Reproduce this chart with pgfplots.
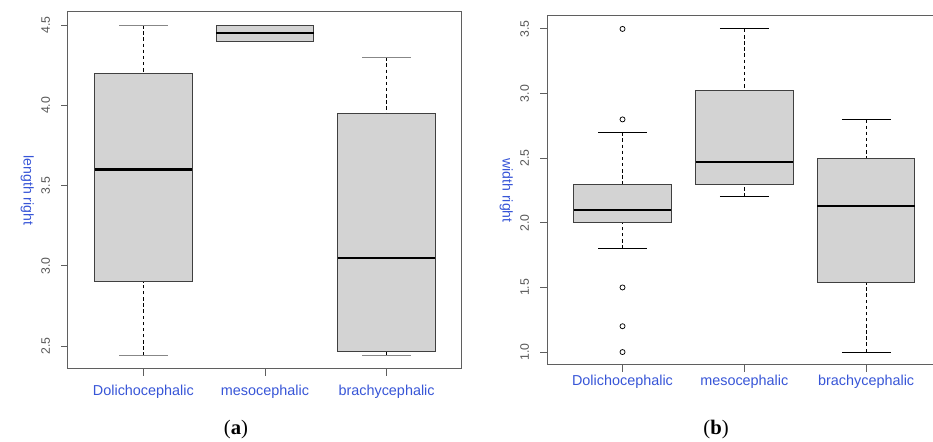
\documentclass[border=0pt]{standalone}
\usepackage{pgfplots}
\pgfplotsset{compat=1.18}
\usepgfplotslibrary{statistics}
\usepackage{fontspec}
\setmainfont{Liberation Sans}
\newfontfamily\capfont{Liberation Serif}
\definecolor{lblue}{RGB}{55,85,215}
\definecolor{tgray}{RGB}{85,85,85}
\definecolor{framegray}{RGB}{95,95,95}
\definecolor{boxgray}{RGB}{211,211,211}
\definecolor{capgray}{RGB}{135,135,135}
\pgfplotsset{
  rbox/.style={
    scale only axis,
    xmin=0.38, xmax=3.62,
    xtick={1,2,3},
    xticklabels={Dolichocephalic, mesocephalic, brachycephalic},
    xtick pos=bottom, ytick pos=left,
    tick align=outside,
    major tick length=5pt,
    tick style={framegray, line width=0.7pt},
    axis line style={framegray, line width=0.75pt},
    xticklabel style={font=\fontsize{10.8}{12}\selectfont, text=lblue},
    yticklabel style={font=\fontsize{9.2}{10}\selectfont, text=tgray, xshift=-5pt, rotate=90, anchor=south},
    /pgf/number format/assume math mode=true,
    /pgf/number format/.cd, fixed, fixed zerofill, precision=1, /pgfplots/.cd,
    every axis y label/.style={at={(axis description cs:0,0.5)}, anchor=center, xshift=-30.5pt, rotate=-90, font=\fontsize{10.6}{12}\selectfont, text=lblue},
    boxplot/draw direction=y,
    boxplot/box extend=0.8,
    boxplot/whisker extend=0.4,
    boxplot/every median/.style={line width=1.8pt, black},
    boxplot/every box/.style={fill=boxgray, draw=black!75, line width=0.75pt},
  },
}
\newcommand{\setwhiskers}[1]{%
\pgfplotsset{
  boxplot/draw/lower whisker/.code={%
    \draw[black, line width=0.75pt, dash pattern=on 2.6pt off 2pt] (boxplot cs:\pgfplotsboxplotvalue{lower whisker}) -- (boxplot cs:\pgfplotsboxplotvalue{lower quartile});
    \draw[#1, line width=0.75pt, solid] (boxplot whisker cs:\pgfplotsboxplotvalue{lower whisker},0) -- (boxplot whisker cs:\pgfplotsboxplotvalue{lower whisker},1);
  },
  boxplot/draw/upper whisker/.code={%
    \draw[black, line width=0.75pt, dash pattern=on 2.6pt off 2pt] (boxplot cs:\pgfplotsboxplotvalue{upper whisker}) -- (boxplot cs:\pgfplotsboxplotvalue{upper quartile});
    \draw[#1, line width=0.75pt, solid] (boxplot whisker cs:\pgfplotsboxplotvalue{upper whisker},0) -- (boxplot whisker cs:\pgfplotsboxplotvalue{upper whisker},1);
  },
}}
\begin{document}
\begin{tikzpicture}
\useasboundingbox (0,0) rectangle (699.75pt,331.5pt);
% ---------- (a) ----------
\begin{axis}[rbox, at={(51pt,54.75pt)}, anchor=south west,
  width=295.5pt, height=267.75pt,
  ymin=2.3576, ymax=4.5824, ytick={2.5,3.0,3.5,4.0,4.5},
  xticklabel style={yshift=-3.5pt},
  ylabel={length right}]
\setwhiskers{capgray}
\addplot[boxplot prepared={lower whisker=2.44, lower quartile=2.9, median=3.6, upper quartile=4.2, upper whisker=4.5, draw position=1}] coordinates {};
\addplot[boxplot prepared={lower whisker=4.4, lower quartile=4.4, median=4.45, upper quartile=4.5, upper whisker=4.5, draw position=2}] coordinates {};
\addplot[boxplot prepared={lower whisker=2.44, lower quartile=2.465, median=3.05, upper quartile=3.95, upper whisker=4.3, draw position=3}] coordinates {};
\end{axis}
% ---------- (b) ----------
\begin{axis}[rbox, at={(410.25pt,57.75pt)}, anchor=south west,
  width=296pt, height=261.75pt,
  ymin=0.9, ymax=3.6, ytick={1.0,1.5,2.0,2.5,3.0,3.5},
  xticklabel style={yshift=0.75pt},
  ylabel={width right}]
\setwhiskers{black}
\addplot[boxplot prepared={lower whisker=1.8, lower quartile=2.0, median=2.1, upper quartile=2.3, upper whisker=2.7, draw position=1},
  mark=o, mark size=1.9pt, mark options={black, line width=0.55pt, solid}] coordinates {(0,3.5) (0,2.8) (0,1.5) (0,1.2) (0,1.0)};
\addplot[boxplot prepared={lower whisker=2.2, lower quartile=2.3, median=2.47, upper quartile=3.02, upper whisker=3.5, draw position=2}] coordinates {};
\addplot[boxplot prepared={lower whisker=1.0, lower quartile=1.54, median=2.13, upper quartile=2.5, upper whisker=2.8, draw position=3}] coordinates {};
\end{axis}
\node[font=\capfont\fontsize{15.5}{17}\selectfont] at (177pt,9pt) {(\textbf{a})};
\node[font=\capfont\fontsize{15.5}{17}\selectfont] at (537pt,9pt) {(\textbf{b})};
\end{tikzpicture}
\end{document}
